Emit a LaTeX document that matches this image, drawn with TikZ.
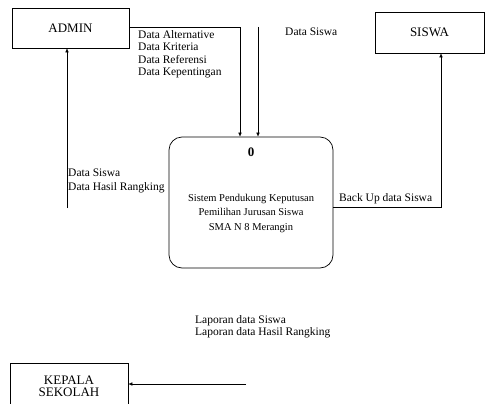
\documentclass[tikz,border=0pt]{standalone}
\usepackage{fontspec}
\setmainfont{Liberation Serif}
\usetikzlibrary{positioning, arrows.meta}

\begin{document}
\begin{tikzpicture}[x=1pt, y=-1pt,
		entitas/.style={draw, line width=0.7pt, inner sep=0pt, align=center, font=\fontsize{13}{15}\selectfont},
		arus/.style={line width=0.5pt, -{Latex[length=4pt, width=3.5pt]}},
		teks/.style={anchor=north west, inner sep=0pt, align=left, font=\fontsize{11.5}{12.5}\selectfont}]
	
	% Page frame (the bottom box is cut off by it)
	\clip (0,0) rectangle (487,404);
	\fill[white] (0,0) rectangle (487,404);
	
	% External entities
	\node[entitas, minimum width=117pt, minimum height=40pt] (admin) at (70.5,28) {ADMIN};
	\node[entitas, minimum width=109pt, minimum height=41pt] (siswa) at (429.5,32.5) {SISWA};
	\node[entitas, minimum width=118pt, minimum height=46pt] (kepala) at (69,386) {KEPALA\\[-3pt]SEKOLAH};
	
	% Process
	\node[draw, line width=0.7pt, rounded corners=13pt, minimum width=164pt, minimum height=131pt] (proses) at (251,202.5) {};
	\node[font=\fontsize{13}{15}\selectfont\bfseries] (nomor) at (251,152) {0};
	\node[align=center, font=\fontsize{10.5}{14.5}\selectfont] (nama) at (251,213) {Sistem Pendukung Keputusan\\Pemilihan Jurusan Siswa\\SMA N 8 Merangin};
	
	% Free ends of the flows
	\coordinate (dsatas) at (258,27);
	\coordinate (kembali) at (67,208);
	\coordinate (laporan) at (246,384);
	
	% Data flows
	\draw[arus] (admin.east |- 0,27) -| ([xshift=-11pt]proses.north);
	\draw[arus] (dsatas) -- (dsatas |- proses.north);
	\draw[arus] ([yshift=-4.5pt]proses.east) -| ([xshift=11.5pt]siswa.south);
	\draw[arus] (kembali) -- (kembali |- admin.south);
	\draw[arus] (laporan) -- (laporan -| kepala.east);
	
	% Labels
	\node[teks] (l1) at (138,30) {Data Alternative\\Data Kriteria\\Data Referensi\\Data Kepentingan};
	\node[teks] (l2) at (285,28) {Data Siswa};
	\node[teks, font=\fontsize{11.5}{14}\selectfont] (l3) at (68,169) {Data Siswa\\Data Hasil Rangking};
	\node[teks] (l4) at (339,193) {Back Up data Siswa};
	\node[teks] (l5) at (195,315) {Laporan data Siswa\\Laporan data Hasil Rangking};
	
\end{tikzpicture}
\end{document}
